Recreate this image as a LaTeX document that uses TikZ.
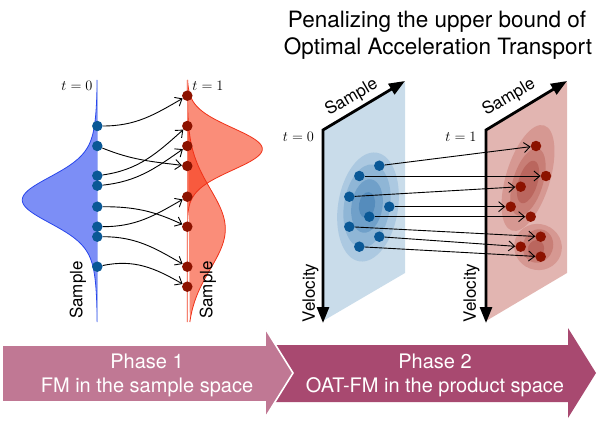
\documentclass[tikz,border=0pt]{standalone}
\usepackage[no-math]{fontspec}
\newfontfamily\hv{TeX Gyre Heros}
\usetikzlibrary{arrows.meta}
\definecolor{bfill}{RGB}{30,60,240}
\definecolor{bedge}{RGB}{40,70,235}
\definecolor{bline}{RGB}{165,182,245}
\definecolor{rfill}{RGB}{246,51,16}
\definecolor{redge}{RGB}{240,50,25}
\definecolor{rline}{RGB}{245,130,112}
\definecolor{bdot}{RGB}{10,88,150}
\definecolor{rdot}{RGB}{140,18,0}
\definecolor{bplane}{RGB}{201,220,234}
\definecolor{bc1}{RGB}{172,201,225}
\definecolor{bc2}{RGB}{143,182,214}
\definecolor{bc3}{RGB}{112,160,201}
\definecolor{bc4}{RGB}{85,140,188}
\definecolor{rplane}{RGB}{226,181,177}
\definecolor{rc1}{RGB}{214,152,146}
\definecolor{rc2}{RGB}{200,126,118}
\definecolor{rc3}{RGB}{186,102,94}
\definecolor{phaseA}{RGB}{192,120,148}
\definecolor{phaseB}{RGB}{168,73,112}
\begin{document}
\begin{tikzpicture}[x=1pt,y=1pt,
  bdotn/.style={circle,fill=bdot,inner sep=0pt,minimum size=10.5pt},
  rdotn/.style={circle,fill=rdot,inner sep=0pt,minimum size=10.5pt},
  flow/.style={-{Straight Barb[length=6pt,width=10pt]},line width=0.9pt,black},
  axisarr/.style={{Triangle[length=16pt,width=12pt]}-{Triangle[length=16pt,width=12pt]},line width=2.8pt,line join=miter},
  lbl/.style={font=\hv\fontsize{17}{20}\selectfont,inner sep=1pt},
  tlbl/.style={font=\fontsize{13.5}{16}\selectfont,anchor=base,inner sep=1pt},
  ttl/.style={font=\hv\fontsize{22.5}{27}\selectfont,anchor=base},
  ph/.style={font=\hv\fontsize{20}{24}\selectfont,anchor=base,text=white}
]
\useasboundingbox (0,0) rectangle (602,-425);

% ---------- title ----------
\node[ttl] (title1) at (437,-28) {Penalizing the upper bound of};
\node[ttl] (title2) at (438,-54.5) {Optimal Acceleration Transport};

% ---------- left panel ----------
\fill[bfill,opacity=0.58] plot[domain=80:322,samples=200]
  ({97.3-60*exp(-0.5*((\x-200)/22)^2)-15*exp(-0.5*((\x-200)/40)^2)},{-\x}) -- cycle;
\draw[bedge,line width=0.8pt] plot[domain=80:322,samples=200]
  ({97.3-60*exp(-0.5*((\x-200)/22)^2)-15*exp(-0.5*((\x-200)/40)^2)},{-\x});
\draw[bline,line width=1.3pt] (97.3,-80) -- (97.3,-322);

\fill[rfill,opacity=0.56] plot[domain=80:322,samples=200]
  ({187.3+75*exp(-0.5*((\x-149)/21)^2)},{-\x}) -- cycle;
\fill[rfill,opacity=0.56] plot[domain=80:322,samples=200]
  ({187.3+38*exp(-0.5*((\x-229)/40)^2)},{-\x}) -- cycle;
\draw[redge,line width=0.8pt] plot[domain=80:322,samples=200]
  ({187.3+75*exp(-0.5*((\x-149)/21)^2)},{-\x});
\draw[redge,line width=0.8pt] plot[domain=80:322,samples=200]
  ({187.3+38*exp(-0.5*((\x-229)/40)^2)},{-\x});
\draw[rline,line width=1.6pt] (187.3,-80) -- (187.3,-322);

\node[tlbl] (lt0) at (77,-90.7) {$t=0$};
\node[tlbl] (lt1) at (208,-90.7) {$t=1$};
\node[lbl,rotate=90] (ls0) at (78,-290) {Sample};
\node[lbl,rotate=90] (ls1) at (208,-290) {Sample};

\node[bdotn] (b1) at (97.3,-126) {};
\node[bdotn] (b2) at (97.3,-146) {};
\node[bdotn] (b3) at (97.3,-175.7) {};
\node[bdotn] (b4) at (97.3,-185.7) {};
\node[bdotn] (b5) at (97.3,-206.7) {};
\node[bdotn] (b6) at (97.3,-226.7) {};
\node[bdotn] (b7) at (97.3,-236.7) {};
\node[bdotn] (b8) at (97.3,-266.7) {};
\node[rdotn] (r1) at (187.3,-95.7) {};
\node[rdotn] (r2) at (187.3,-126) {};
\node[rdotn] (r3) at (187.3,-146) {};
\node[rdotn] (r4) at (187.3,-166) {};
\node[rdotn] (r5) at (187.3,-196.7) {};
\node[rdotn] (r6) at (187.3,-226.7) {};
\node[rdotn] (r7) at (187.3,-266.7) {};
\node[rdotn] (r8) at (187.3,-286.7) {};

\draw[flow] (b1) to[out=0,in=210] (r1);
\draw[flow] (b2) to[out=-22,in=173] (r4);
\draw[flow] (b3) to[out=8,in=222] (r2);
\draw[flow] (b4) to[out=6,in=215] (r3);
\draw[flow] (b5) to[out=0,in=155] (r6);
\draw[flow] (b6) to[out=0,in=210] (r5);
\draw[flow] (b7) to[out=0,in=150] (r7);
\draw[flow] (b8) to[out=12,in=150] (r8);

% ---------- right panel: blue plane ----------
\coordinate (bc) at (323,-130);
\coordinate (bs) at (405,-81);
\coordinate (bv) at (323,-323);
\fill[bplane] (323,-130) -- (405,-82) -- (405,-273) -- (323,-321) -- cycle;
\fill[bc1,rotate around={-9:(368,-207)}] (368,-207) ellipse [x radius=30,y radius=55];
\fill[bc2,rotate around={-9:(367,-206)}] (367,-206) ellipse [x radius=23,y radius=42];
\fill[bc3,rotate around={-9:(367,-206)}] (367,-206) ellipse [x radius=15.5,y radius=27];
\fill[bc4,rotate around={-9:(367,-205)}] (367,-205) ellipse [x radius=8,y radius=13];
\draw[axisarr] (bs) -- (bc) -- (bv);
\node[tlbl] (rt0) at (298.5,-142) {$t=0$};
\node[lbl,rotate=30.3] (rs0) at (351.7,-97.5) {Sample};
\node[lbl,rotate=90] (rv0) at (310.5,-293) {Velocity};

% ---------- right panel: red plane ----------
\coordinate (rc) at (486,-130);
\coordinate (rs) at (567,-81);
\coordinate (rv) at (486,-323);
\fill[rplane] (486,-130) -- (567,-82) -- (567,-273) -- (486,-321) -- cycle;
\fill[rc1,rotate around={-17:(528,-178)}] (528,-178) ellipse [x radius=22,y radius=55];
\fill[rc1,rotate around={-20:(538,-247)}] (538,-247) ellipse [x radius=24,y radius=23];
\fill[rc2,rotate around={-17:(528,-182)}] (528,-182) ellipse [x radius=15,y radius=35];
\fill[rc2,rotate around={-20:(538,-246)}] (538,-246) ellipse [x radius=15,y radius=17];
\fill[rc3,rotate around={-17:(528,-182)}] (528,-182) ellipse [x radius=9.5,y radius=22];
\fill[rc3,rotate around={-20:(536,-249)}] (536,-249) ellipse [x radius=8,y radius=9];
\draw[axisarr] (rs) -- (rc) -- (rv);
\node[tlbl] (rt1) at (461,-141.7) {$t=1$};
\node[lbl,rotate=30.3] (rs1) at (509,-97.5) {Sample};
\node[lbl,rotate=90] (rv1) at (471.5,-293) {Velocity};

% dots
\node[bdotn] (B1) at (379.3,-165.7) {};
\node[bdotn] (B2) at (359.3,-176) {};
\node[bdotn] (B3) at (349.3,-196.7) {};
\node[bdotn] (B4) at (389.3,-206.7) {};
\node[bdotn] (B5) at (369.3,-216.7) {};
\node[bdotn] (B6) at (349.3,-226.7) {};
\node[bdotn] (B7) at (379.3,-236.7) {};
\node[bdotn] (B8) at (359.3,-246.7) {};
\node[rdotn] (R1) at (536,-146) {};
\node[rdotn] (R2) at (546,-176) {};
\node[rdotn] (R3) at (520.7,-186.7) {};
\node[rdotn] (R4) at (510.7,-206.7) {};
\node[rdotn] (R5) at (530.7,-216.7) {};
\node[rdotn] (R6) at (540.7,-236.7) {};
\node[rdotn] (R7) at (520.7,-246.7) {};
\node[rdotn] (R8) at (540.7,-256.7) {};
\foreach \i in {1,...,8} \draw[flow] (B\i) -- (R\i);

% ---------- phase arrows ----------
\fill[phaseB] (275,-345) -- (568,-345) -- (568,-328) -- (596,-373) -- (568,-418)
  -- (568,-402) -- (275,-402) -- (293,-373) -- cycle;
\filldraw[fill=phaseA,draw=white,line width=1.6pt,line join=miter]
  (2,-345) -- (265,-345) -- (265,-328) -- (293,-373) -- (265,-418)
  -- (265,-402) -- (2,-402) -- cycle;
\node[ph] (p1a) at (147,-368) {Phase 1};
\node[ph] (p1b) at (147,-392) {FM in the sample space};
\node[ph] (p2a) at (435,-368) {Phase 2};
\node[ph] (p2b) at (435,-392) {OAT-FM in the product space};
\end{tikzpicture}
\end{document}
